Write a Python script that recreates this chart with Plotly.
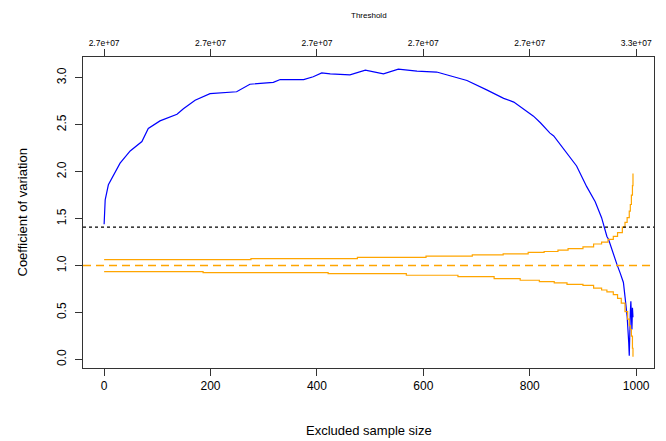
import plotly.graph_objects as go

# Blue CV curve (excluded sample size vs coefficient of variation)
cv_x = [0, 2, 8, 17, 30, 49, 71, 83, 105, 137, 149, 171, 199, 249, 274, 318, 331, 368, 375,
        393, 409, 425, 462, 491, 525, 553, 588, 625, 663, 682, 719, 751, 770, 807, 820, 838,
        845, 870, 888, 907, 923, 935, 945, 948, 954, 964, 970, 976, 979, 983, 986, 987, 989,
        990, 992, 993, 994]
cv_y = [1.44, 1.70, 1.86, 1.95, 2.09, 2.22, 2.32, 2.46, 2.54, 2.61, 2.67, 2.76, 2.83, 2.85,
        2.93, 2.95, 2.98, 2.98, 2.98, 3.01, 3.05, 3.04, 3.03, 3.08, 3.04, 3.09, 3.07, 3.06,
        3.00, 2.97, 2.87, 2.78, 2.74, 2.59, 2.52, 2.41, 2.38, 2.20, 2.06, 1.84, 1.68, 1.51,
        1.31, 1.28, 1.17, 1.01, 0.92, 0.82, 0.67, 0.46, 0.18, 0.04, 0.50, 0.62, 0.32, 0.55, 0.45]

# Orange bands
up_x = [0, 276, 476, 605, 692, 750, 797, 827, 853, 872, 900, 920, 935, 947, 957, 965, 974,
        979, 983, 987, 989, 991, 993, 994]
up_y = [1.064, 1.074, 1.088, 1.100, 1.115, 1.125, 1.140, 1.150, 1.165, 1.180, 1.200, 1.230,
        1.250, 1.280, 1.310, 1.350, 1.410, 1.460, 1.510, 1.580, 1.650, 1.750, 1.850, 1.980]
lo_x = [0, 186, 421, 568, 665, 733, 782, 818, 846, 870, 900, 920, 935, 945, 957, 965, 972,
        979, 984, 987, 989, 991, 993, 994]
lo_y = [0.936, 0.926, 0.915, 0.897, 0.883, 0.862, 0.844, 0.830, 0.816, 0.800, 0.790, 0.760,
        0.740, 0.720, 0.690, 0.650, 0.600, 0.510, 0.430, 0.360, 0.320, 0.250, 0.120, 0.030]

ref_black = 1.41
ref_orange = 1.0

x_ticks = [0, 200, 400, 600, 800, 1000]
top_labels = ["2.7e+07", "2.7e+07", "2.7e+07", "2.7e+07", "2.7e+07", "3.3e+07"]
y_ticks = [0.0, 0.5, 1.0, 1.5, 2.0, 2.5, 3.0]

FONT = "Liberation Sans, Arial, sans-serif"
ORANGE = "#FFA500"

fig = go.Figure()
fig.add_trace(go.Scatter(x=cv_x, y=cv_y, mode="lines", line=dict(color="#0000FF", width=1.2),
                         showlegend=False))
fig.add_trace(go.Scatter(x=up_x, y=up_y, mode="lines", line=dict(color=ORANGE, width=1.2, shape="hv"),
                         showlegend=False))
fig.add_trace(go.Scatter(x=lo_x, y=lo_y, mode="lines", line=dict(color=ORANGE, width=1.2, shape="hv"),
                         showlegend=False))
# dummy trace for top axis
fig.add_trace(go.Scatter(x=[0, 1000], y=[None, None], xaxis="x2", showlegend=False, hoverinfo="skip"))

fig.add_hline(y=ref_black, line=dict(color="black", width=1.2, dash="dot"))
fig.add_hline(y=ref_orange, line=dict(color=ORANGE, width=1.5, dash="8px,5px"))

xr = [-39.7, 1033.5]
fig.update_layout(
    width=658, height=433,
    margin=dict(l=75, r=12, t=49, b=73),
    paper_bgcolor="white", plot_bgcolor="white",
    font=dict(family=FONT, color="black"),
    xaxis=dict(range=xr, tickvals=x_ticks, ticktext=[str(v) for v in x_ticks],
               ticks="outside", ticklen=7, tickcolor="#333", tickfont=dict(size=12),
               showline=True, linecolor="#333", mirror=True, showgrid=False, zeroline=False),
    xaxis2=dict(range=xr, overlaying="x", side="top", tickvals=x_ticks, ticktext=top_labels,
                ticks="outside", ticklen=7, tickcolor="#333", tickfont=dict(size=8.5),
                showline=False, showgrid=False, zeroline=False),
    yaxis=dict(range=[-0.09, 3.22], tickvals=y_ticks, ticktext=[f"{v:.1f}" for v in y_ticks],
               ticks="outside", ticklen=7, tickcolor="#333", tickfont=dict(size=12), tickangle=-90,
               ticklabelstandoff=4,
               showline=True, linecolor="#333", mirror=True, showgrid=False, zeroline=False),
    annotations=[
        dict(text="Excluded sample size", x=0.5, y=0, xref="paper", yref="paper",
             yanchor="middle", yshift=-62, showarrow=False, font=dict(size=13)),
        dict(text="Threshold", x=0.5, y=1, xref="paper", yref="paper", yanchor="top",
             yshift=48, showarrow=False, font=dict(size=8)),
        dict(text="Coefficient of variation", x=0, y=0.5, xref="paper", yref="paper",
             xanchor="center", xshift=-61, showarrow=False, textangle=-90, font=dict(size=13)),
    ],
)

fig.write_html("out.html")
